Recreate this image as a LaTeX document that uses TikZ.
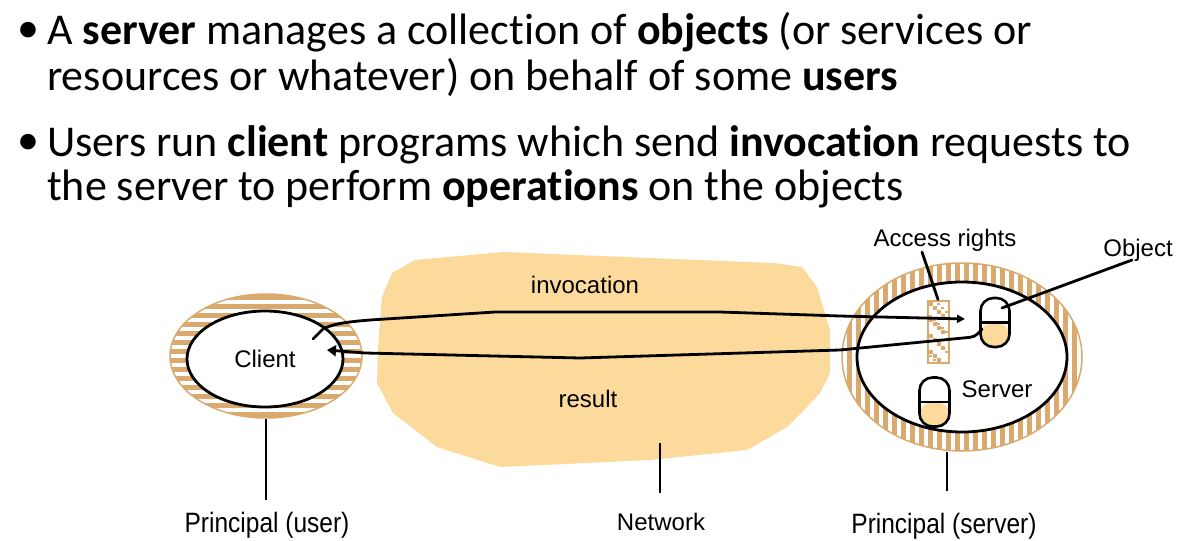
\documentclass[tikz,border=0pt]{standalone}
\usepackage{fontspec}
\setmainfont[Ligatures=CommonOff]{Carlito}
\newfontfamily\lblfont{Liberation Sans}
\newfontfamily\lblnarrow[FakeStretch=0.875]{Liberation Sans}
\usetikzlibrary{shapes.geometric,arrows.meta,calc}
\definecolor{ringtan}{RGB}{217,169,110}
\definecolor{netfill}{RGB}{252,218,155}
\tikzset{
  bullettext/.style={anchor=base west,inner sep=0,font=\fontsize{44}{52}\selectfont},
  bulletmark/.style={anchor=base west,inner sep=0,font=\fontsize{44}{52}\selectfont},
  lbl/.style={inner sep=0,font=\lblfont\fontsize{24}{28}\selectfont},
  plbl/.style={inner sep=0,font=\lblnarrow\fontsize{28}{32}\selectfont},
  ring/.style={ellipse,fill=ringtan,draw=ringtan,line width=1.5pt,inner sep=0},
  innerell/.style={ellipse,draw=black,fill=white,line width=2.8pt,inner sep=0},
  hstripes/.style={path picture={
      \foreach \k in {-9,...,9}
        \fill[white] ($(path picture bounding box.center)+(-130,\k*9-2.25)$) rectangle ++(260,4.5);}},
  vstripes/.style={path picture={
      \foreach \k in {-15,...,15}
        \fill[white] ($(path picture bounding box.center)+(\k*9-2.25,-110)$) rectangle ++(4.5,220);}},
  capsule/.style={rectangle,rounded corners=13pt,draw=black,fill=white,line width=2.6pt,
      minimum height=49pt,inner sep=0,
      path picture={\fill[netfill] (path picture bounding box.west) rectangle (path picture bounding box.south east);
                    \draw[line width=2.5pt] (path picture bounding box.west) -- (path picture bounding box.east);}},
  accbox/.style={rectangle,draw=ringtan,fill=white,line width=2pt,minimum width=21pt,minimum height=62pt,inner sep=0,
      path picture={
        \foreach \r in {0,...,14}{
          \pgfmathtruncatemacro\c{mod(\r,4)}
          \fill[ringtan] ($(path picture bounding box.north west)+(\c*4+1,\r*4+1)$) rectangle ++(4,4);
          \pgfmathtruncatemacro\d{mod(\r+2,5)}
          \fill[ringtan] ($(path picture bounding box.north west)+(\d*4+1,\r*4+2)$) rectangle ++(3,2);}}},
  conn/.style={line width=2.8pt,line cap=round,line join=round},
  tick/.style={line width=2.6pt},
}
\begin{document}
\begin{tikzpicture}[x=1pt,y=-1pt]
\useasboundingbox (0,0) rectangle (1195,541);

% bullet text
\node[bulletmark] (b1) at (17,42.5) {•};
\node[bullettext] (l1) at (47,44) {A \textbf{server} manages a collection of \textbf{objects} (or services or};
\node[bullettext] (l2) at (47,90.7) {resources or whatever) on behalf of some \textbf{users}};
\node[bulletmark] (b2) at (17,154.5) {•};
\node[bullettext] (l3) at (47,156) {Users run \textbf{client} programs which send \textbf{invocation} requests to};
\node[bullettext] (l4) at (47,200.7) {the server to perform \textbf{operations} on the objects};

% network blob
\fill[netfill] (392,273) -- (415,260) -- (503,252) -- (773,263) -- (802,267) -- (817,287)
  -- (830,330) -- (830,373) -- (820,393) -- (807,407) -- (787,427) -- (747,450) -- (650,460)
  -- (500,467) -- (437,447) -- (393,413) -- (377,383) -- (378,347) -- (382,297) -- cycle;
\coordinate (nettop) at (660,443);
\coordinate (netbot) at (660,493);

% client
\node[ring,hstripes,minimum width=192pt,minimum height=124pt] (clientring) at (266,356) {};
\node[innerell,minimum width=156pt,minimum height=96pt,font=\lblfont\fontsize{24}{28}\selectfont] (client) at (265,359) {Client};

% server
\node[ring,vstripes,minimum width=240pt,minimum height=188pt] (serverring) at (962,357) {};
\node[innerell,minimum width=210pt,minimum height=150pt] (server) at (962,357) {};
\node[lbl,anchor=base] (servertxt) at (997,397) {Server};

\node[accbox] (acbox) at (938,331.5) {};
\node[capsule,minimum width=29pt] (obj1) at (995,322.5) {};
\node[capsule,minimum width=30pt] (obj2) at (934.5,402) {};

% labels
\node[lbl,anchor=base] (inv) at (585,293) {invocation};
\node[lbl,anchor=base] (res) at (588,407) {result};
\node[lbl,anchor=base] (acc) at (945,246) {Access rights};
\node[lbl,anchor=base] (objl) at (1138,256) {Object};
\node[plbl,anchor=base] (puser) at (267,532) {Principal (user)};
\node[lbl,anchor=base] (netl) at (661,530) {Network};
\node[plbl,anchor=base] (pserver) at (944,533) {Principal (server)};

% connectors
\coordinate (invstart) at (313,339);
\coordinate (invend) at (965,319);
\draw[conn,-{Triangle[length=8pt,width=8pt]}] (invstart) -- (323,329)
  .. controls (333,324) and (345,322) .. (370,320) -- (495,312) -- (720,312) -- (840,316) -- (invend);
\coordinate (resstart) at (982,329);
\coordinate (resend) at (327,350);
\draw[conn,-{Triangle[length=9pt,width=11pt]}] (resstart) .. controls (975,337) .. (963,338)
  -- (840,350) -- (580,358) -- (365,353) -- (resend);

\coordinate (accptr) at (922,252);
\draw[conn] (accptr) -- (acbox.north);
\coordinate (objptr) at (1132,260);
\coordinate (objend) at (1002,308);
\draw[conn] (objptr) -- (objend);

\coordinate (userbot) at (266,500);
\draw[tick] (clientring.south) -- (userbot);
\draw[tick] (nettop) -- (netbot);
\coordinate (srvtop) at (947,452);
\coordinate (srvbot) at (947,491);
\draw[tick] (srvtop) -- (srvbot);
\end{tikzpicture}
\end{document}
